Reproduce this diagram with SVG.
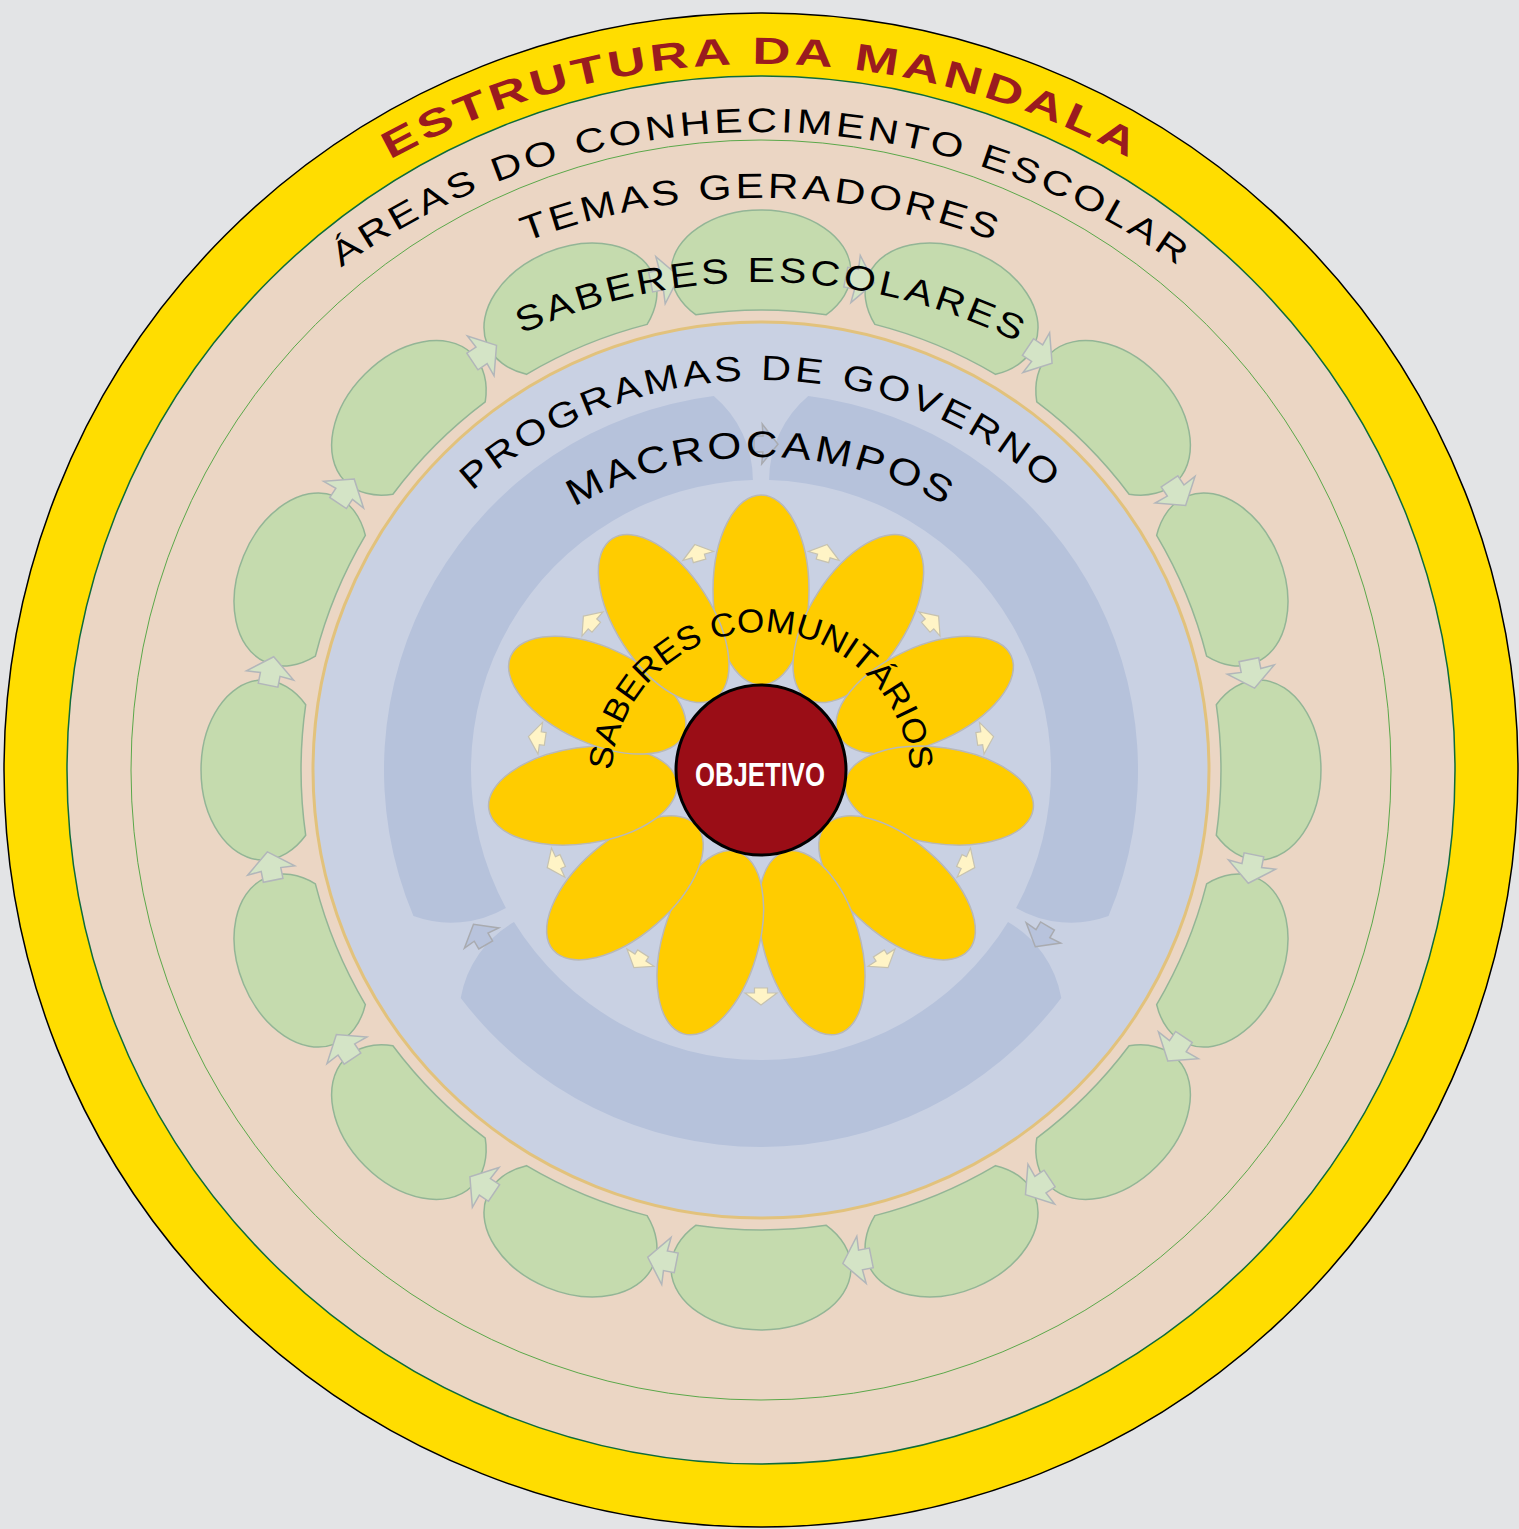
<svg xmlns="http://www.w3.org/2000/svg" width="1519" height="1529" viewBox="0 0 1519 1529">
<style>
.t{font-family:"Liberation Sans",Arial,sans-serif;fill:#000}
.blob{fill:#c5dbae;stroke:#93b596;stroke-width:1.5}
.garr{fill:#d4e4c6;stroke:#b2b6ba;stroke-width:1.5}
.petal{fill:#ffcc00;stroke:#b8b8b8;stroke-width:1.5}
.parr{fill:#fff4c6;stroke:#c6c2b0;stroke-width:1.2}
.marr{fill:#b8c3dc;stroke:#a9abb0;stroke-width:1.5}
.ring{fill:#b6c2db}
</style>
<defs>
<path id="blob" d="M695.7 314.7 A90 62 0 1 1 826.3 314.7 A460 460 0 0 0 695.7 314.7 Z"/>
<polygon id="ga" points="16,0 -3,-24 -2,-10 -13,-10 -13,10 -2,10 -3,24"/>
<polygon id="pa" points="9,0 -3,16 -3,6.5 -8,6.5 -8,-6.5 -3,-6.5 -3,-16"/>
<polygon id="ma" points="13,0 -3,-20 -2,-8 -11,-8 -11,8 -2,8 -3,20"/>
<ellipse id="petal" cx="761" cy="590" rx="48" ry="95"/>
<path id="p-title" d="M-5 830 A766 766 0 0 1 1527 830"/>
<path id="p-areas" d="M44 849 A717 717 0 0 1 1478 849"/>
<path id="p-temas" d="M109 850 A652 652 0 0 1 1413 850"/>
<path id="p-saberes" d="M183 860 A578 578 0 0 1 1339 860"/>
<path id="p-prog" d="M331 810 A430 430 0 0 1 1191 810"/>
<path id="p-macro" d="M388 830 A373 373 0 0 1 1134 830"/>
<path id="p-com" d="M611 782 A150 150 0 0 1 911 782"/>
</defs>
<rect width="1519" height="1529" fill="#e3e4e6"/>
<g id="estrutura-da-mandala">
<circle cx="761" cy="770" r="757" fill="#ffdd00" stroke="#000" stroke-width="1.5"/>
<text class="t" style="fill:#9a1b1f;font-weight:bold;font-size:38px;letter-spacing:3px"><textPath href="#p-title" startOffset="50%" text-anchor="middle" textLength="775" lengthAdjust="spacingAndGlyphs">ESTRUTURA DA MANDALA</textPath></text>
</g>
<g id="areas-do-conhecimento">
<circle cx="761" cy="770" r="694" fill="#ebd6c4" stroke="#0e6b3b" stroke-width="1.5"/>
<text class="t" style="font-size:34px;letter-spacing:3px"><textPath href="#p-areas" startOffset="50%" text-anchor="middle" textLength="897" lengthAdjust="spacingAndGlyphs">ÁREAS DO CONHECIMENTO ESCOLAR</textPath></text>
</g>
<g id="temas-geradores">
<circle cx="761" cy="770" r="630" fill="none" stroke="#5ba84a" stroke-width="1"/>
<text class="t" style="font-size:35px;letter-spacing:3px"><textPath href="#p-temas" startOffset="50%" text-anchor="middle" textLength="482" lengthAdjust="spacingAndGlyphs">TEMAS GERADORES</textPath></text>
</g>
<g id="saberes-escolares">
<use href="#blob" class="blob"/>
<use href="#blob" class="blob" transform="rotate(22.5 761 770)"/>
<use href="#blob" class="blob" transform="rotate(45 761 770)"/>
<use href="#blob" class="blob" transform="rotate(67.5 761 770)"/>
<use href="#blob" class="blob" transform="rotate(90 761 770)"/>
<use href="#blob" class="blob" transform="rotate(112.5 761 770)"/>
<use href="#blob" class="blob" transform="rotate(135 761 770)"/>
<use href="#blob" class="blob" transform="rotate(157.5 761 770)"/>
<use href="#blob" class="blob" transform="rotate(180 761 770)"/>
<use href="#blob" class="blob" transform="rotate(202.5 761 770)"/>
<use href="#blob" class="blob" transform="rotate(225 761 770)"/>
<use href="#blob" class="blob" transform="rotate(247.5 761 770)"/>
<use href="#blob" class="blob" transform="rotate(270 761 770)"/>
<use href="#blob" class="blob" transform="rotate(292.5 761 770)"/>
<use href="#blob" class="blob" transform="rotate(315 761 770)"/>
<use href="#blob" class="blob" transform="rotate(337.5 761 770)"/>
</g>
<g id="programas-de-governo">
<circle cx="761" cy="770" r="448" fill="#c9d1e3" stroke="#e2c27c" stroke-width="3"/>
</g>
<g id="macrocampos">
<path class="ring" d="M413.46 916.10 A377 377 0 0 1 713.75 395.97 A110 110 0 0 1 752.90 480.11 A290 290 0 0 0 505.90 907.93 A110 110 0 0 1 413.46 916.10 Z"/>
<path class="ring" d="M808.25 395.97 A377 377 0 0 1 1108.54 916.10 A110 110 0 0 1 1016.10 907.93 A290 290 0 0 0 769.10 480.11 A110 110 0 0 1 808.25 395.97 Z"/>
<path class="ring" d="M1061.29 997.93 A377 377 0 0 1 460.71 997.93 A110 110 0 0 1 514.00 921.96 A290 290 0 0 0 1008.00 921.96 A110 110 0 0 1 1061.29 997.93 Z"/>
</g>
<g id="connectors">
<g id="arrows-saberes-escolares">
<use href="#ga" class="garr" transform="rotate(-78.75 761 770) translate(1261 770) rotate(90)"/>
<use href="#ga" class="garr" transform="rotate(-56.25 761 770) translate(1261 770) rotate(90)"/>
<use href="#ga" class="garr" transform="rotate(-33.75 761 770) translate(1261 770) rotate(90)"/>
<use href="#ga" class="garr" transform="rotate(-11.25 761 770) translate(1261 770) rotate(90)"/>
<use href="#ga" class="garr" transform="rotate(11.25 761 770) translate(1261 770) rotate(90)"/>
<use href="#ga" class="garr" transform="rotate(33.75 761 770) translate(1261 770) rotate(90)"/>
<use href="#ga" class="garr" transform="rotate(56.25 761 770) translate(1261 770) rotate(90)"/>
<use href="#ga" class="garr" transform="rotate(78.75 761 770) translate(1261 770) rotate(90)"/>
<use href="#ga" class="garr" transform="rotate(101.25 761 770) translate(1261 770) rotate(90)"/>
<use href="#ga" class="garr" transform="rotate(123.75 761 770) translate(1261 770) rotate(90)"/>
<use href="#ga" class="garr" transform="rotate(146.25 761 770) translate(1261 770) rotate(90)"/>
<use href="#ga" class="garr" transform="rotate(168.75 761 770) translate(1261 770) rotate(90)"/>
<use href="#ga" class="garr" transform="rotate(191.25 761 770) translate(1261 770) rotate(90)"/>
<use href="#ga" class="garr" transform="rotate(213.75 761 770) translate(1261 770) rotate(90)"/>
<use href="#ga" class="garr" transform="rotate(236.25 761 770) translate(1261 770) rotate(90)"/>
<use href="#ga" class="garr" transform="rotate(258.75 761 770) translate(1261 770) rotate(90)"/>
</g>
<g id="arrows-macrocampos">
<use href="#ma" class="marr" transform="rotate(-89.3 761 770) translate(1087 770) rotate(90)"/>
<use href="#ma" class="marr" transform="rotate(30.5 761 770) translate(1087 770) rotate(90)"/>
<use href="#ma" class="marr" transform="rotate(149.5 761 770) translate(1087 770) rotate(90)"/>
</g>
<g id="arrows-saberes-comunitarios">
<use href="#pa" class="parr" transform="rotate(-106.364 761 770) translate(987 770)"/>
<use href="#pa" class="parr" transform="rotate(-73.636 761 770) translate(987 770)"/>
<use href="#pa" class="parr" transform="rotate(-40.909 761 770) translate(987 770)"/>
<use href="#pa" class="parr" transform="rotate(-8.182 761 770) translate(987 770)"/>
<use href="#pa" class="parr" transform="rotate(24.545 761 770) translate(987 770)"/>
<use href="#pa" class="parr" transform="rotate(57.273 761 770) translate(987 770)"/>
<use href="#pa" class="parr" transform="rotate(90 761 770) translate(987 770)"/>
<use href="#pa" class="parr" transform="rotate(122.727 761 770) translate(987 770)"/>
<use href="#pa" class="parr" transform="rotate(155.455 761 770) translate(987 770)"/>
<use href="#pa" class="parr" transform="rotate(188.182 761 770) translate(987 770)"/>
<use href="#pa" class="parr" transform="rotate(220.909 761 770) translate(987 770)"/>
</g>
</g>
<g id="saberes-comunitarios">
<use href="#petal" class="petal"/>
<use href="#petal" class="petal" transform="rotate(32.727 761 770)"/>
<use href="#petal" class="petal" transform="rotate(65.455 761 770)"/>
<use href="#petal" class="petal" transform="rotate(98.182 761 770)"/>
<use href="#petal" class="petal" transform="rotate(130.909 761 770)"/>
<use href="#petal" class="petal" transform="rotate(163.636 761 770)"/>
<use href="#petal" class="petal" transform="rotate(196.364 761 770)"/>
<use href="#petal" class="petal" transform="rotate(229.091 761 770)"/>
<use href="#petal" class="petal" transform="rotate(261.818 761 770)"/>
<use href="#petal" class="petal" transform="rotate(294.545 761 770)"/>
<use href="#petal" class="petal" transform="rotate(327.273 761 770)"/>
</g>
<g id="labels">
<text class="t" style="font-size:35px;letter-spacing:3px"><textPath href="#p-saberes" startOffset="919" text-anchor="middle" textLength="516" lengthAdjust="spacingAndGlyphs">SABERES ESCOLARES</textPath></text>
<text class="t" style="font-size:35px;letter-spacing:3px"><textPath href="#p-prog" startOffset="50%" text-anchor="middle" textLength="633" lengthAdjust="spacingAndGlyphs">PROGRAMAS DE GOVERNO</textPath></text>
<text class="t" style="font-size:37px;letter-spacing:3px"><textPath href="#p-macro" startOffset="50%" text-anchor="middle" textLength="391" lengthAdjust="spacingAndGlyphs">MACROCAMPOS</textPath></text>
<text class="t" style="font-size:33px"><textPath href="#p-com" startOffset="50%" text-anchor="middle" textLength="448" lengthAdjust="spacingAndGlyphs">SABERES COMUNITÁRIOS</textPath></text>
</g>
<g id="objetivo">
<circle cx="761" cy="770" r="85" fill="#9a0d16" stroke="#000" stroke-width="3"/>
<text x="760" y="786" text-anchor="middle" textLength="130" lengthAdjust="spacingAndGlyphs" style="font-family:'Liberation Sans',Arial,sans-serif;font-weight:bold;font-size:33px;fill:#fff">OBJETIVO</text>
</g>
</svg>
